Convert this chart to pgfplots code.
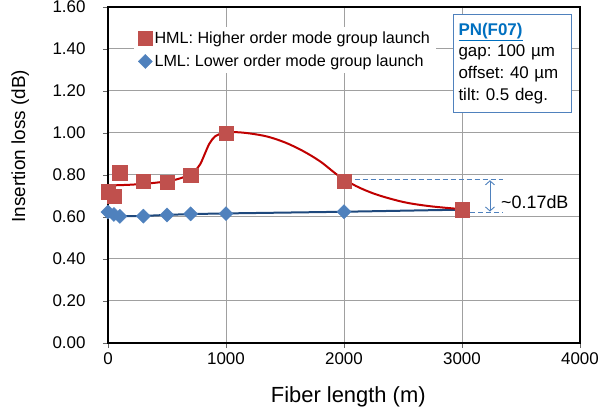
\documentclass[border=0pt]{standalone}
\usepackage{fontspec}
\setmainfont{Liberation Sans}
\usepackage{pgfplots}
\pgfplotsset{compat=1.18}
\usetikzlibrary{arrows.meta}
\definecolor{hmlred}{HTML}{C0504D}
\definecolor{lmlblue}{HTML}{4F81BD}
\definecolor{redline}{HTML}{C00000}
\definecolor{blueline}{HTML}{1F497D}
\definecolor{pnblue}{HTML}{0070C0}
\definecolor{gridgray}{HTML}{A0A0A0}
\frenchspacing
\begin{document}
\begin{tikzpicture}
\useasboundingbox (0,0) rectangle (601bp,417bp);
\begin{axis}[
    at={(108bp,74bp)}, anchor=south west,
    width=472bp, height=336bp, scale only axis,
    xmin=0, xmax=4000, ymin=0, ymax=1.6,
    clip=false,
    xtick={0,1000,2000,3000,4000},
    ytick={0,0.2,0.4,0.6,0.8,1.0,1.2,1.4,1.6},
    xtick pos=bottom, ytick pos=left,
    tick align=outside, major tick length=5bp,
    tick style={gray!80!black, line width=0.8bp},
    grid=major,
    major grid style={gridgray, line width=1bp},
    axis line style={black, line width=1.3bp},
    /pgf/number format/assume math mode=true,
    xticklabel style={font=\fontsize{17}{20}\selectfont, yshift=-1bp, /pgf/number format/1000 sep={}},
    yticklabel style={font=\fontsize{17}{20}\selectfont, xshift=-14bp,
        /pgf/number format/.cd, fixed, fixed zerofill, precision=2},
    xlabel={Fiber length (m)},
    ylabel={Insertion loss (dB)},
    xlabel style={font=\fontsize{22}{26}\selectfont, at={(rel axis cs:0.509,-0.161)}, anchor=center},
    ylabel style={font=\fontsize{19}{23}\selectfont, at={(rel axis cs:-0.186,0.586)}, anchor=center},
    legend cell align=left,
    legend image code/.code={\path[#1] plot coordinates {(0.2cm,0cm)};},
    legend style={at={(rel axis cs:0.055,0.942)}, anchor=north west,
        draw=none, fill=white, font=\fontsize{16.2}{19}\selectfont,
        row sep=6bp, inner xsep=4bp, inner ysep=3bp,
        nodes={inner sep=2bp},
        /tikz/every even column/.append style={column sep=7bp}},
]
% legend entries (HML first)
\addlegendimage{mark=square*, mark size=7.2bp, mark options={fill=hmlred, draw=hmlred}}
\addlegendentry{HML: Higher order mode group launch}
\addlegendimage{mark=square*, mark size=5bp, mark options={rotate=45, fill=lmlblue, draw=lmlblue}}
\addlegendentry{LML: Lower order mode group launch}

% LML line and points
\addplot[forget plot, blueline, line width=2bp] coordinates {
    (0,0.624) (50,0.612) (100,0.604) (300,0.605) (500,0.610)
    (700,0.614) (1000,0.617) (2000,0.625) (3000,0.635)
};
\addplot[forget plot, only marks, mark=square*, mark size=5bp,
    mark options={rotate=45, fill=lmlblue, draw=lmlblue}] coordinates {
    (0,0.624) (50,0.612) (100,0.603) (300,0.604) (500,0.610)
    (700,0.615) (1000,0.616) (2000,0.625) (3000,0.635)
};

% HML points
\addplot[forget plot, only marks, mark=square*, mark size=7.2bp,
    mark options={fill=hmlred, draw=hmlred}] coordinates {
    (0,0.72) (50,0.70) (100,0.81) (300,0.77) (500,0.765)
    (700,0.80) (1000,1.00) (2000,0.77) (3000,0.635)
};

% HML smoothed trend
\addplot[forget plot, redline, line width=2bp, smooth, tension=0.55] coordinates {
    (0,0.750) (200,0.754) (400,0.763) (550,0.775) (650,0.792)
    (730,0.818) (780,0.850) (820,0.900) (860,0.950) (910,0.985)
    (980,1.000) (1080,1.004) (1200,0.998) (1350,0.983) (1500,0.955)
    (1650,0.915) (1800,0.864) (1950,0.798) (2100,0.748) (2250,0.712)
    (2400,0.686) (2550,0.666) (2750,0.650) (3000,0.637)
};

% ~0.17 dB annotation
\draw[lmlblue, line width=0.9bp, dash pattern=on 5bp off 3bp]
    (axis cs:2090,0.778) -- (axis cs:3350,0.778);
\draw[lmlblue, line width=0.9bp, dash pattern=on 5bp off 3bp]
    (axis cs:3070,0.623) -- (axis cs:3350,0.623);
\draw[lmlblue, line width=0.9bp, {Straight Barb[length=4bp,width=9bp]}-{Straight Barb[length=4bp,width=9bp]}]
    (axis cs:3237,0.775) -- (axis cs:3237,0.626);
\node[anchor=west, inner sep=0pt, font=\fontsize{18}{21}\selectfont]
    at (axis cs:3330,0.67) {\textasciitilde0.17dB};

% parameter box
\node[anchor=north west, draw=lmlblue, fill=white, line width=1bp,
    text width=108bp, inner xsep=5bp, inner ysep=8.5bp, align=left,
    font=\fontsize{17}{21.7}\selectfont]
    at (rel axis cs:0.731,0.979)
    {\textcolor{pnblue}{\textbf{\underline{PN(F07)}}}\\
     gap: 100 µm\\
     offset: 40 µm\\
     tilt: 0.5 deg.};
\end{axis}
\end{tikzpicture}
\end{document}
